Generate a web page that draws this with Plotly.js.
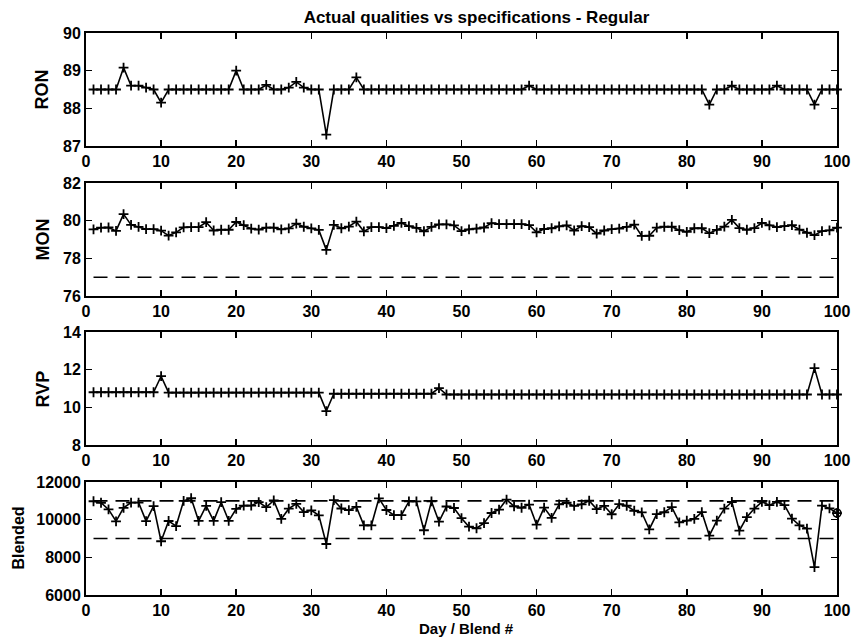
<!DOCTYPE html>
<html>
<head>
<meta charset="utf-8">
<script src="https://cdn.plot.ly/plotly-3.0.1.min.js"></script>
<style>html,body{margin:0;padding:0;background:#fff;}#chart{width:861px;height:642px;}</style>
</head>
<body>
<div id="chart"></div>
<script>
// Day / Blend number
var days = [1,2,3,4,5,6,7,8,9,10,11,12,13,14,15,16,17,18,19,20,
  21,22,23,24,25,26,27,28,29,30,31,32,33,34,35,36,37,38,39,40,
  41,42,43,44,45,46,47,48,49,50,51,52,53,54,55,56,57,58,59,60,
  61,62,63,64,65,66,67,68,69,70,71,72,73,74,75,76,77,78,79,80,
  81,82,83,84,85,86,87,88,89,90,91,92,93,94,95,96,97,98,99,100];

var ron = [88.5,88.5,88.5,88.5,89.08,88.6,88.6,88.55,88.5,88.15,
  88.5,88.5,88.5,88.5,88.5,88.5,88.5,88.5,88.5,89.0,
  88.5,88.5,88.5,88.62,88.5,88.5,88.55,88.7,88.55,88.5,
  88.5,87.3,88.5,88.5,88.5,88.82,88.5,88.5,88.5,88.5,
  88.5,88.5,88.5,88.5,88.5,88.5,88.5,88.5,88.5,88.5,
  88.5,88.5,88.5,88.5,88.5,88.5,88.5,88.5,88.6,88.5,
  88.5,88.5,88.5,88.5,88.5,88.5,88.5,88.5,88.5,88.5,
  88.5,88.5,88.5,88.5,88.5,88.5,88.5,88.5,88.5,88.5,
  88.5,88.5,88.1,88.5,88.5,88.6,88.5,88.5,88.5,88.5,
  88.5,88.6,88.5,88.5,88.5,88.5,88.1,88.5,88.5,88.5];

var mon = [79.54,79.63,79.64,79.46,80.35,79.78,79.67,79.55,79.55,79.47,
  79.21,79.38,79.65,79.66,79.66,79.92,79.48,79.52,79.52,79.93,
  79.76,79.58,79.53,79.63,79.63,79.54,79.59,79.85,79.68,79.59,
  79.51,78.45,79.78,79.6,79.69,79.95,79.43,79.66,79.66,79.61,
  79.73,79.88,79.71,79.62,79.44,79.67,79.8,79.81,79.75,79.45,
  79.54,79.58,79.64,79.87,79.82,79.82,79.82,79.82,79.77,79.38,
  79.56,79.6,79.7,79.75,79.48,79.71,79.66,79.31,79.48,79.55,
  79.58,79.67,79.79,79.19,79.2,79.63,79.68,79.68,79.5,79.41,
  79.6,79.6,79.34,79.51,79.69,80.04,79.61,79.52,79.61,79.88,
  79.75,79.66,79.71,79.76,79.53,79.36,79.23,79.45,79.49,79.63];

var rvp = [10.8,10.8,10.8,10.8,10.8,10.8,10.8,10.8,10.8,11.65,
  10.78,10.78,10.78,10.78,10.78,10.78,10.78,10.78,10.78,10.78,
  10.78,10.78,10.78,10.78,10.78,10.78,10.78,10.78,10.78,10.78,
  10.78,9.8,10.72,10.72,10.72,10.72,10.72,10.72,10.72,10.72,
  10.72,10.72,10.72,10.72,10.72,10.72,11.02,10.68,10.68,10.68,
  10.68,10.68,10.68,10.68,10.68,10.68,10.68,10.68,10.68,10.68,
  10.68,10.68,10.68,10.68,10.68,10.68,10.68,10.68,10.68,10.68,
  10.68,10.68,10.68,10.68,10.68,10.68,10.68,10.68,10.68,10.68,
  10.68,10.68,10.68,10.68,10.68,10.68,10.68,10.68,10.68,10.68,
  10.68,10.68,10.68,10.68,10.68,10.68,12.08,10.68,10.68,10.68];

var blended = [10980,10900,10545,9915,10630,10910,10910,9925,10725,8855,
  9930,9660,11000,11140,9935,10735,9935,10930,9940,10570,
  10745,10745,10935,10665,11020,10040,10585,10845,10405,10500,
  10230,8710,11035,10595,10505,10680,9700,9700,11130,10515,
  10245,10245,10970,10970,9440,10975,9895,10700,10620,10080,
  9630,9545,9815,10355,10540,11070,10715,10635,10805,9735,
  10640,10100,10810,10900,10730,10815,11005,10560,10735,10290,
  10825,10740,10475,10390,9490,10300,10395,10665,9855,9950,
  10040,10400,9155,9955,10585,10940,9420,10140,10590,10945,
  10770,10945,10775,10060,9700,9525,7480,10750,10600,10350];

// Last blend highlighted
var lastDay = [100];
var lastBlended = [10350];

// Specification lines
var specX = [1, 100];
var monSpec = [77, 77];
var blendLow = [9000, 9000];
var blendHigh = [11000, 11000];

var titleText = 'Actual qualities vs specifications - Regular';
var yTitles = ['RON', 'MON', 'RVP', 'Blended'];
var yRanges = [[87, 90], [76, 82], [8, 14], [6000, 12000]];
var yDticks = [1, 2, 2, 2000];
var xTitle = 'Day / Blend #';

var FONT = 'Liberation Sans, Arial, Helvetica, sans-serif';

function dataTrace(y, ax) {
  return {
    x: days, y: y, xaxis: 'x' + ax, yaxis: 'y' + ax,
    type: 'scatter', mode: 'lines+markers',
    line: {color: '#000', width: 1.6},
    marker: {symbol: 'cross-thin-open', size: 7, color: '#000', line: {color: '#000', width: 1.8}},
    showlegend: false, hoverinfo: 'x+y', cliponaxis: false
  };
}
function specTrace(y, ax) {
  return {
    x: specX, y: y, xaxis: 'x' + ax, yaxis: 'y' + ax,
    type: 'scatter', mode: 'lines',
    line: {color: '#000', width: 1.6, dash: '14px,8px'},
    showlegend: false, hoverinfo: 'skip'
  };
}

var traces = [
  dataTrace(ron, ''),
  dataTrace(mon, '2'),
  specTrace(monSpec, '2'),
  dataTrace(rvp, '3'),
  specTrace(blendLow, '4'),
  specTrace(blendHigh, '4'),
  dataTrace(blended, '4'),
  {x: lastDay, y: lastBlended, xaxis: 'x4', yaxis: 'y4', type: 'scatter', mode: 'markers',
   marker: {symbol: 'circle-open', size: 8, color: '#000', line: {color: '#000', width: 1.6}},
   showlegend: false, hoverinfo: 'x+y', cliponaxis: false}
];

var domains = [[0.799, 1.0], [0.532, 0.733], [0.267, 0.468], [0.0, 0.201]];

function axisBase() {
  return {
    showline: true, linewidth: 2, linecolor: '#000', mirror: 'ticks',
    ticks: 'inside', ticklen: 6, tickwidth: 1.5, tickcolor: '#000',
    showgrid: false, zeroline: false, tickformat: 'd',
    tickfont: {family: FONT, size: 16, color: '#000', weight: 'bold'}
  };
}

var layout = {
  width: 861, height: 642,
  margin: {l: 86, r: 24, t: 33, b: 47},
  paper_bgcolor: '#fff', plot_bgcolor: '#fff',
  title: {text: titleText, x: 0.52, xref: 'paper', y: 0.974, yref: 'container', yanchor: 'middle',
          font: {family: FONT, size: 17, color: '#000', weight: 'bold'}},
  annotations: []
};

var suffixes = ['', '2', '3', '4'];
var yTitleX = [-0.0573, -0.0573, -0.0573, -0.0905];
var yTitleSize = [18, 18, 18, 16];
for (var i = 0; i < 4; i++) {
  var xa = axisBase();
  xa.range = [0, 100]; xa.dtick = 10; xa.tick0 = 0;
  xa.anchor = 'y' + suffixes[i];
  xa.domain = [0, 1];
  var ya = axisBase();
  ya.range = yRanges[i]; ya.dtick = yDticks[i]; ya.tick0 = yRanges[i][0];
  ya.anchor = 'x' + suffixes[i];
  ya.domain = domains[i];
  layout['xaxis' + suffixes[i]] = xa;
  layout['yaxis' + suffixes[i]] = ya;
  layout.annotations.push({
    text: yTitles[i], xref: 'paper', yref: 'paper',
    x: yTitleX[i], y: (domains[i][0] + domains[i][1]) / 2,
    xanchor: 'center', yanchor: 'middle', textangle: -90, showarrow: false,
    font: {family: FONT, size: yTitleSize[i], color: '#000', weight: 'bold'}
  });
}
layout.annotations.push({
  text: xTitle, xref: 'paper', yref: 'paper', x: 0.507, y: -0.06,
  xanchor: 'center', yanchor: 'middle', showarrow: false,
  font: {family: FONT, size: 15, color: '#000', weight: 'bold'}
});

Plotly.newPlot('chart', traces, layout, {displayModeBar: false, staticPlot: true});
</script>
</body>
</html>
